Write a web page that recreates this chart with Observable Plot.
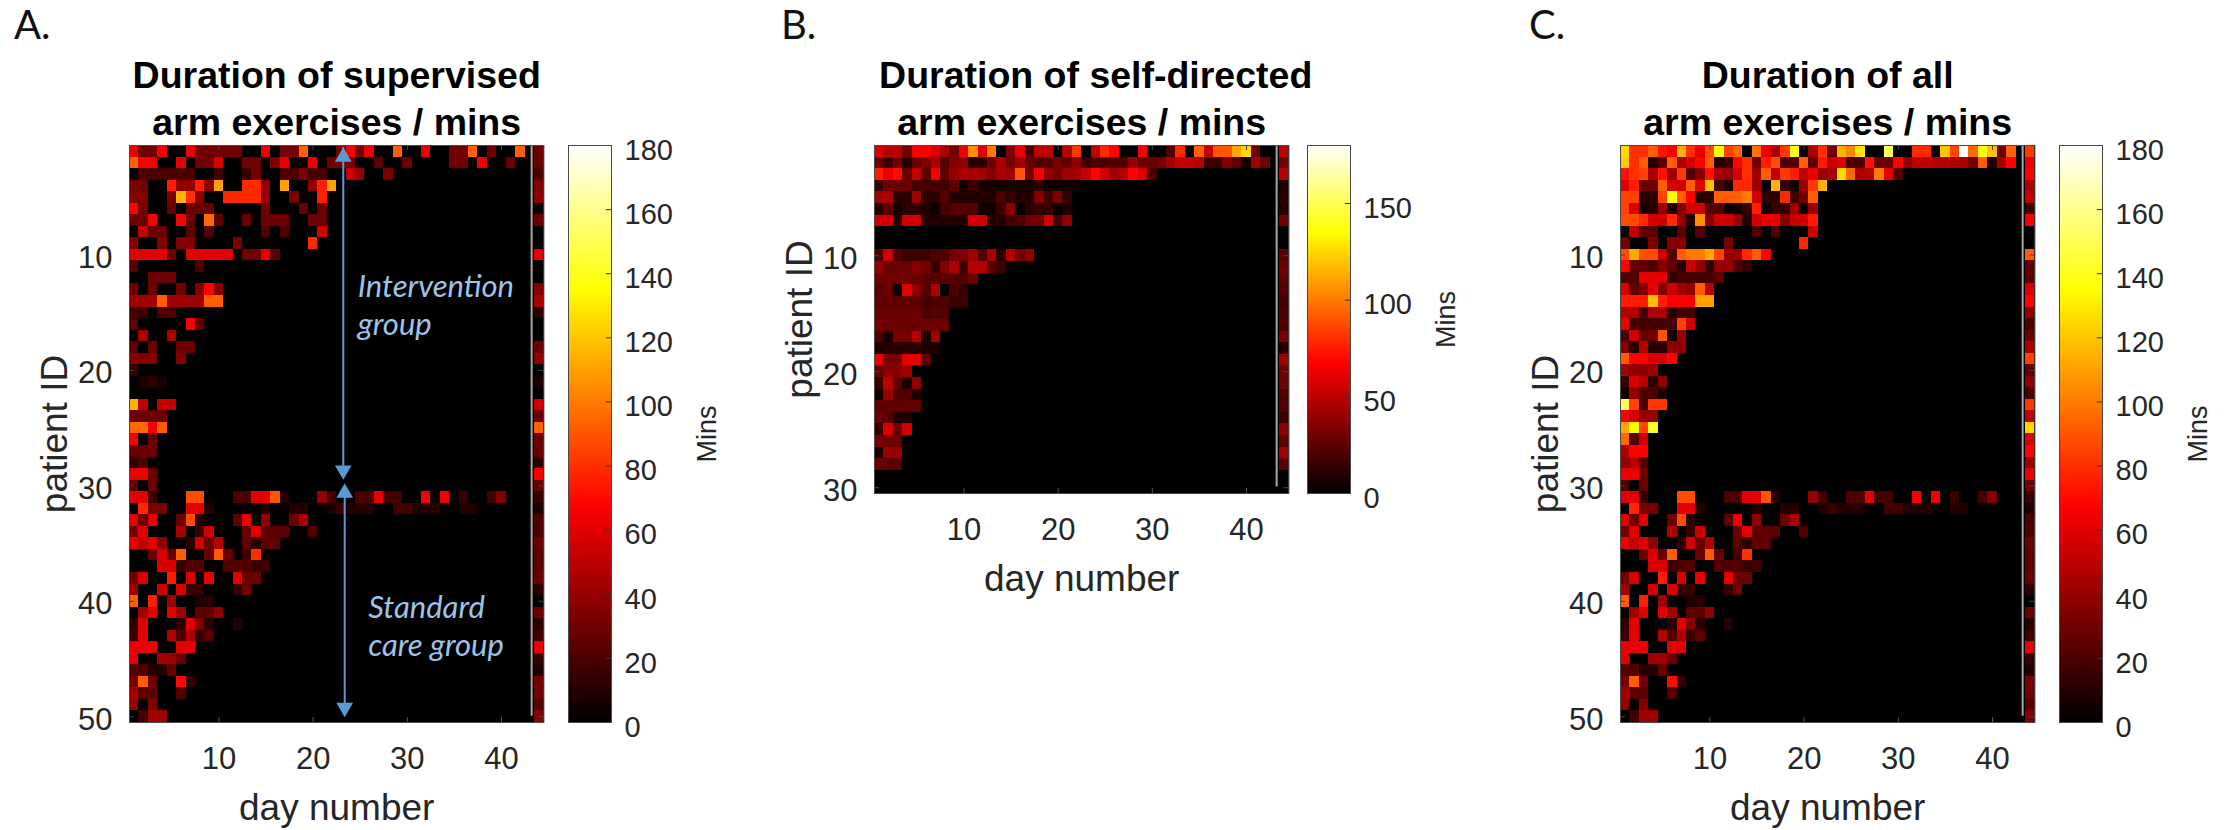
<!DOCTYPE html>
<html><head><meta charset="utf-8">
<script src="https://cdn.jsdelivr.net/npm/d3@7"></script>
<script src="https://cdn.jsdelivr.net/npm/@observablehq/plot@0.6"></script>
<style>
html,body{margin:0;padding:0;background:#fff;}
#page{position:relative;width:2234px;height:830px;overflow:hidden;}
#page svg{position:absolute;top:0;overflow:visible;background:transparent;}
.tag{position:absolute;top:0;font:40px Lato,"Open Sans",sans-serif;color:#111;line-height:1;}
</style></head><body><div id="page"></div>
<script>
// rows: minutes per patient, one entry per day starting with day 1 (trailing zero days omitted)
const supervisedIntervention = [
[62,30,30,65,0,0,62,30,30,30,30,30,0,0,62,0,32,32,93,0,0,0,30,65,30,62,0,0,93,0,0,62,0,0,30,30,93,0,28,0,0,93],
[93,65,65,0,0,60,0,30,30,58,0,0,30,30,0,33,62,0,0,62,0,30,30,32,0,0,25,0,0,28,0,0,0,0,30,30,0,62,0,0,28],
[0,20,20,20,20,20,20,0,0,18,0,0,15,30,0,0,20,20,32,18,18,0,0,52,40,0,0,33],
[32,32,0,0,75,38,38,75,38,110,0,0,78,78,38,0,110,0,0,38,76,110],
[35,35,0,0,33,115,80,38,0,0,78,78,78,78,38,0,0,33,0,0,76],
[68,30,0,0,28,0,28,28,28,0,0,0,0,0,30,0,0,0,28,0,28],
[28,28,65,0,0,65,28,0,95,25,0,0,28,0,28,28,28,0,0,28,28],
[0,52,28,28,0,0,25,0,22,0,0,0,0,0,22,0,22,0,0,0,55],
[35,0,0,35,0,35,35,0,0,0,0,32,0,0,0,0,0,0,0,78],
[60,60,60,60,28,0,60,60,60,60,60,0,30,30,60,25],
[22,0,0,0,0,0,0,20],
[0,0,28,28,28],
[30,0,30,0,0,30,0,35,68,35],
[42,42,42,92,42,42,42,42,92,92],
[18,18,0,20,20],
[25,0,0,0,0,0,65,25],
[0,45,0,0,45],
[25,0,28,0,0,28,28],
[35,35,35,0,0,35],
[15],
[0,7,12,6],
[],
[115,50,0,52,52],
[28,28,28,28],
[95,95,65,92],
[65,0,28],
[28,28,28],
[12,20],
[62,62,28],
[25,0,28]
];
const standardCare = [
[60,60,15,0,0,0,88,88,0,0,0,20,20,60,60,90,10,0,0,0,40,18,0,0,20,20,62,18,18,0,0,65,0,65,0,15,0,0,18,35],
[0,78,32,32,0,0,60,60,10,0,0,0,0,0,10,0,0,10,10,0,0,8,15,10,10,10,0,0,18,18,10,10,10,0,0,9,9],
[60,28,60,0,0,28,88,12,0,0,0,25,62,0,38,0,0,28,45],
[30,60,0,0,0,45,0,15,55,0,0,0,28,60,25,25,25,0,0,22],
[62,52,60,38,0,0,12,55,28,48,0,0,25,12,25,25],
[0,0,28,58,28,92,0,0,28,92,28,0,18,80],
[0,0,0,58,58,15,22,22,0,0,22,22,22,15,18],
[30,58,0,0,75,0,58,0,62,0,0,60,28,28],
[42,0,0,55,0,58,14,14,0,0,0,14,30],
[92,0,75,0,42,0,0,8,10],
[0,42,60,0,60,42,0,25,25,38],
[12,60,0,0,0,12,60,35,12,0,0,10],
[15,60,0,0,48,22,46,14,25],
[62,62,62,0,0,60,60],
[60,0,0,42,42,28],
[22,22,10,10,28],
[32,92,30,0,0,70,14],
[42,25,25,0,0,22],
[40,0,35],
[0,18,42,42]
];
const selfDirected = [
[58,48,48,30,66,66,58,45,30,62,105,58,100,0,35,62,18,50,50,0,48,82,0,50,78,68,0,0,66,0,0,22,78,0,93,52,90,90,112,125,28],
[28,15,30,10,28,35,45,22,35,38,10,12,30,45,30,42,28,22,22,32,26,38,16,20,20,22,22,40,28,28,32,42,52,50,48,15,15,35,25,6,42,30],
[75,62,70,28,52,25,66,25,40,45,45,42,35,45,42,90,30,66,38,32,42,42,52,68,55,42,48,68,58,20],
[16,28,28,28,18,18,18,18,25,4,16,6,6,6,6,6,6,12,4,4,4,4],
[45,45,12,12,42,12,12,22,9,9,9,9,9,20,14,10,10,35,18,34,14],
[12,25,6,12,12,8,4,18,22,22,22,4,4,16,36,2,12,14,14,2,8],
[55,55,10,55,55,10,10,10,10,10,55,55,10,10,18,22,30,30,55,18,38],
[],
[],
[22,55,20,16,16,16,20,20,32,32,42,22,44,12,48,30,38],
[40,28,28,28,35,30,14,35,45,16,48,48,25,16],
[30,30,30,30,28,24,24,24,22,22,30],
[24,28,0,60,38,24,45,0,20,14],
[26,26,26,26,26,18,20,20,16,16],
[28,28,28,28,28,20,22,22],
[32,28,28,28,28,28,28,28],
[20,7,32,32,48,8,42],
[8,10,12,12,12,8,8],
[62,32,32,60,60,25],
[28,36,36,42],
[15,50,25,8,38],
[5,40,22,22,8],
[26,26,26,26,26],
[28,24,8,8],
[14,58,28,55],
[32,30,28],
[8,40,40],
[30,25,25],
[],
[]
];
const allIntervention = [
[125,80,80,92,72,66,115,80,62,88,135,85,95,0,98,62,45,82,138,4,45,80,28,115,103,128,0,0,150,0,0,78,78,0,120,85,180,95,138,118,28,93],
[122,80,92,10,24,92,45,55,68,92,10,15,68,80,30,75,88,22,22,92,25,75,52,58,20,20,72,28,28,68,38,50,50,48,48,45,45,30,92,8,42,68],
[72,80,85,45,72,42,82,22,35,72,45,40,55,80,42,92,50,82,75,52,62,40,45,125,95,45,48,100,60,22],
[58,75,28,28,92,55,55,92,60,118,18,8,78,78,42,3,115,14,5,40,82,115],
[85,85,12,12,85,135,92,68,12,12,92,92,92,100,55,12,12,78,18,30,92],
[85,58,5,10,40,8,35,55,55,22,22,4,4,14,75,3,14,14,42,3,40],
[88,88,78,55,55,78,38,10,105,35,55,55,40,10,55,62,62,35,52,55,75],
[0,52,25,25,0,0,25,0,22,0,0,0,0,0,22,0,22,0,0,0,55],
[30,0,0,35,0,35,35,0,0,0,0,32,0,0,0,0,0,0,0,78],
[88,112,88,88,55,22,92,100,100,112,85,40,40,78,92,68],
[68,25,25,20,35,25,12,52,40,14,40,40,22,14],
[22,22,60,60,60,14,18,18,18,18,25],
[58,25,35,62,35,55,42,38,92,50],
[75,75,75,118,75,66,66,66,110,110],
[48,48,18,45,45,12,18,16],
[62,18,18,18,18,18,85,55],
[20,55,28,30,90,6,40],
[35,10,48,12,12,38,38],
[92,68,68,58,58,68],
[45,38,38,42],
[15,58,48,12,38],
[5,38,20,20,8],
[150,85,20,82,82],
[65,55,40,40],
[112,135,85,142],
[95,22,55],
[45,68,68],
[38,48,22],
[62,62,28],
[22,0,28]
];
const supervisedSummary = [28,28,20,35,38,0,28,0,0,62,0,0,35,45,12,0,0,28,38,0,8,0,55,28,93,28,28,12,65,28];
const standardSummary = [15,8,20,20,28,25,25,28,12,0,28,12,18,62,14,8,32,30,22,35];
const selfSummary = [50,30,48,8,12,10,30,0,0,25,30,26,22,18,20,22,32,10,42,30,30,22,22,15,38,25,42,25,0,0];
const allSummary = [82,62,68,45,52,15,65,0,0,92,25,25,58,68,38,20,28,45,85,26,38,20,82,50,125,58,68,38,62,30];
const dayTicks = [10,20,30,40];
const patientTicks50 = [10,20,30,40,50];
const patientTicks30 = [10,20,30];
const barTicks180 = [0,20,40,60,80,100,120,140,160,180];
const barTicks150 = [0,50,100,150];

const SUMMARY_DAY = 44;
const colorScale = {type:"linear", domain:[0,67.5,135,180], range:["#000000","#ff0000","#ffff00","#ffffff"]};
const font = {fontFamily:'"Liberation Sans",Arial,sans-serif', background:"transparent", overflow:"visible"};
const INK = "#262626";

function cells(rows, summary){
  const out=[];
  rows.forEach((r,i)=>{
    r.forEach((v,j)=>{ if(v>0) out.push({patient:i+1,day:j+1,v}); });
    if(summary[i]>0) out.push({patient:i+1,day:SUMMARY_DAY,v:summary[i]});
  });
  return out;
}
const page=document.getElementById("page");
function place(svg,left){svg.style.left=left+"px";page.appendChild(svg);}

function heat({heatLeft,bottom,rows,summary,title,titleDx=0,yTicks,extra=[]}){
  const n=rows.length, ml=130;
  const rx=0.53, ry=0.43;
  const svg=Plot.plot({
    width:ml+414.4+40, height:830,
    marginLeft:ml, marginRight:40, marginTop:145, marginBottom:830-bottom,
    x:{domain:[0.5,44.5]}, y:{domain:[0.5,n+0.5],reverse:true},
    color:colorScale, style:font,
    marks:[
      Plot.frame({fill:"#000",stroke:"none"}),
      Plot.rect(cells(rows,summary),{x1:d=>d.day-.5,x2:d=>d.day+.5,y1:d=>d.patient-.5,y2:d=>d.patient+.5,fill:"v",shapeRendering:"crispEdges"}),
      Plot.ruleX([43.2],{y1:0.5,y2:n-0.05,stroke:"#a6a6a6",strokeWidth:2}),
      Plot.ruleX(dayTicks,{y1:n+.5,y2:n+.5-ry,stroke:"#555"}),
      Plot.ruleX(dayTicks,{y1:.5,y2:.5+ry,stroke:"#444"}),
      Plot.ruleY(yTicks,{x1:.5,x2:.5+rx,stroke:"#444"}),
      Plot.ruleY(yTicks,{x1:44.5,x2:44.5-rx,stroke:"#444"}),
      Plot.frame({stroke:"#4a4a4a"}),
      Plot.axisX(dayTicks,{tickSize:0,tickPadding:24,fontSize:31,fill:INK,label:null}),
      Plot.axisY(yTicks,{tickSize:0,tickPadding:17,fontSize:31,fill:INK,label:null,dy:3}),
      Plot.text(["day number"],{frameAnchor:"bottom",textAnchor:"middle",lineAnchor:"bottom",dy:98,fontSize:37,fill:INK}),
      Plot.text(["patient ID"],{frameAnchor:"left",textAnchor:"middle",rotate:-90,dx:-74,fontSize:37,fill:INK}),
      Plot.text([title[0]],{frameAnchor:"top",textAnchor:"middle",lineAnchor:"bottom",dx:titleDx,dy:-57,fontSize:37.5,fontWeight:"bold",fill:"#000"}),
      Plot.text([title[1]],{frameAnchor:"top",textAnchor:"middle",lineAnchor:"bottom",dy:-10,fontSize:37.5,fontWeight:"bold",fill:"#000"}),
      ...extra
    ]
  });
  place(svg,heatLeft-ml);
}
function bar({left,bottom,ticks}){
  const bands=d3.range(0,180,0.75);
  const svg=Plot.plot({
    width:43+120, height:830,
    marginLeft:0, marginRight:120, marginTop:145, marginBottom:830-bottom,
    x:{domain:[0,1],axis:null}, y:{domain:[0,180]},
    color:colorScale, style:font,
    marks:[
      Plot.rect(bands,{x1:0,x2:1,y1:d=>d,y2:d=>d+0.75,fill:d=>d+0.375,shapeRendering:"crispEdges"}),
      Plot.ruleY(ticks.filter(t=>t>0&&t<180),{x1:1,x2:0.88,stroke:"#333"}),
      Plot.frame({stroke:"#4a4a4a"}),
      Plot.axisY(ticks,{anchor:"right",tickSize:0,tickPadding:13,fontSize:29,fill:INK,label:null,dy:5}),
      Plot.text(["Mins"],{frameAnchor:"right",textAnchor:"middle",rotate:-90,dx:96,fontSize:27,fill:INK})
    ]
  });
  place(svg,left);
}

const BLUE="#5b9bd5", NOTE="#9dc3e6";
const arrowSegments=[{x:23.2,a:0.67,b:28.64},{x:23.35,a:30.6,b:49.2}];
const arrowUp=[{x:23.2,y:1.48},{x:23.35,y:30.6}];
const arrowDown=[{x:23.2,y:28.64},{x:23.35,y:49.2}];
const notes=[{x:24.74,y:11.3,t:"Intervention\ngroup"},{x:25.84,y:39.1,t:"Standard\ncare group"}];
const annotations=[
  Plot.ruleX(arrowSegments,{x:"x",y1:"a",y2:"b",stroke:BLUE,strokeWidth:2}),
  Plot.dot(arrowUp,{x:"x",y:"y",symbol:"triangle",r:6.2,fill:BLUE,stroke:"none"}),
  Plot.dot(arrowDown,{x:"x",y:"y",symbol:"triangle",r:6.2,fill:BLUE,stroke:"none",rotate:180}),
  Plot.text(notes,{x:"x",y:"y",text:"t",textAnchor:"start",lineAnchor:"top",fontSize:31,lineHeight:1.23,fontStyle:"italic",fontFamily:"Lato,'Open Sans',sans-serif",fill:NOTE})
];

heat({heatLeft:128.6,bottom:722,rows:[...supervisedIntervention,...standardCare],summary:[...supervisedSummary,...standardSummary],title:["Duration of supervised","arm exercises / mins"],yTicks:patientTicks50,extra:annotations});
bar({left:567.7,bottom:722,ticks:barTicks180});
heat({heatLeft:874,bottom:493,rows:selfDirected,summary:selfSummary,title:["Duration of self-directed","arm exercises / mins"],titleDx:14,yTicks:patientTicks30});
bar({left:1306.7,bottom:493,ticks:barTicks150});
heat({heatLeft:1620,bottom:722,rows:[...allIntervention,...standardCare],summary:[...allSummary,...standardSummary],title:["Duration of all","arm exercises / mins"],yTicks:patientTicks50});
bar({left:2059.2,bottom:722,ticks:barTicks180});

[["A.",14],["B.",781],["C.",1529]].forEach(([t,x])=>{
  const d=document.createElement("div");d.className="tag";d.textContent=t;d.style.left=x+"px";d.style.top="4px";page.appendChild(d);
});
</script></body></html>
